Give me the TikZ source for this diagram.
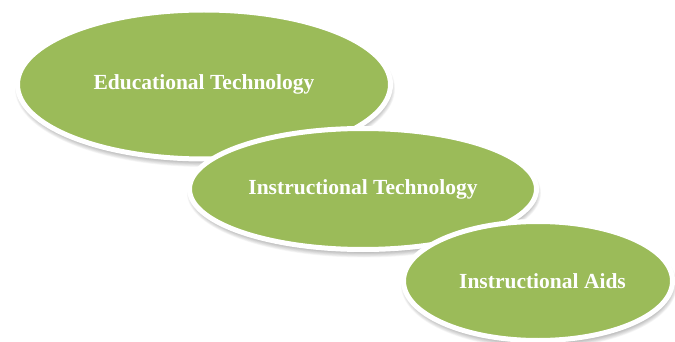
\documentclass[tikz,border=0pt]{standalone}
\usepackage{fontspec}
\setmainfont{Liberation Serif}
\usetikzlibrary{shapes.geometric}
\definecolor{olive}{HTML}{9BBB59}
\tikzset{
  oval/.style={ellipse, draw=white, line width=5pt, fill=olive, inner sep=0pt,
    text=white, font=\bfseries\fontsize{21.5}{25}\selectfont},
}
% soft drop shadow below an oval: centre, x radius, y radius
\newcommand\ovalshadow[4]{%
  \foreach \k in {0,...,7}{
    \fill[black, opacity=0.035] (#1+1,#2+4) ellipse [x radius=#3+3.5-\k*0.7, y radius=#4+4-\k*0.7];
  }}
\begin{document}
\begin{tikzpicture}[x=1pt,y=-1pt]
  \useasboundingbox (0,0) rectangle (675,342);
  \ovalshadow{204}{84.5}{186.5}{74.5}
  \node[oval, minimum width=373pt, minimum height=149pt] (edu) at (204,84.5) {Educational Technology};
  \ovalshadow{363}{189}{173.5}{60.5}
  \node[oval, minimum width=347pt, minimum height=121pt] (ins) at (363,189) {Instructional Technology};
  \ovalshadow{538}{281}{134.5}{59.5}
  \node[oval, minimum width=269pt, minimum height=119pt] (aid) at (538,281) {\hspace*{9pt}Instructional Aids};
\end{tikzpicture}
\end{document}
